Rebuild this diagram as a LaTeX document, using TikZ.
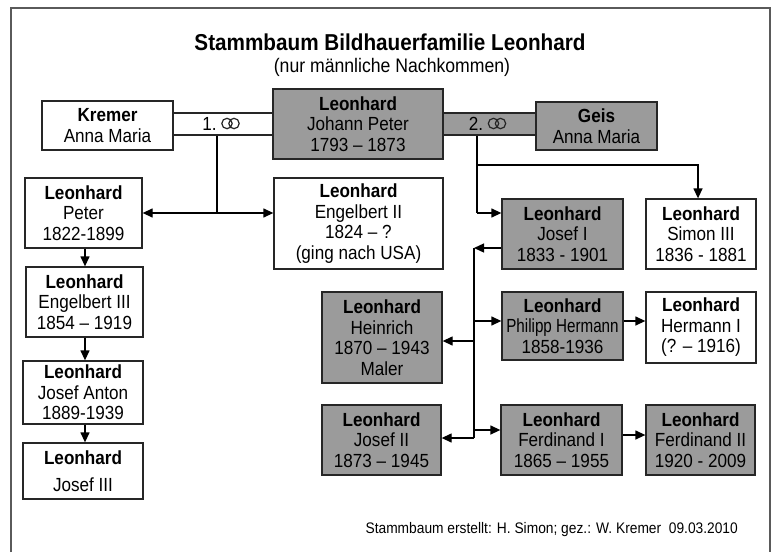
\documentclass[tikz,border=0pt]{standalone}
\usepackage{fontspec}
\setmainfont{Liberation Sans}[FakeStretch=0.9]
\newfontfamily\narrowfont{Liberation Sans}[FakeStretch=0.8]
\usetikzlibrary{arrows.meta}
\definecolor{boxgray}{RGB}{155,155,155}
\definecolor{framecol}{RGB}{90,90,90}
\tikzset{
  base/.style={draw=black!85, line width=1.3pt, inner sep=0pt, align=center,
    font=\fontsize{19pt}{20.5pt}\selectfont},
  wbox/.style={base, fill=white},
  gbox/.style={base, fill=boxgray},
  arr/.style={line width=1.3pt, -{Triangle[length=10pt,width=9pt]}},
  conn/.style={line width=1.3pt},
  ring/.style={draw=black!85, line width=1.2pt},
}
\begin{document}
\begin{tikzpicture}[x=1pt,y=-1pt]
\useasboundingbox (0,0) rectangle (774,552);
\fill[white] (0,0) rectangle (774,552);
\draw[framecol, line width=1.6pt] (11,552) -- (11,8) -- (770,8) -- (770,552);

% titles
\node[anchor=base, inner sep=0pt, font=\fontsize{23pt}{26pt}\selectfont\bfseries] (title) at (390,50) {Stammbaum Bildhauerfamilie Leonhard};
\node[anchor=base, inner sep=0pt, font=\fontsize{19.6pt}{22pt}\selectfont] (sub) at (392,72) {(nur männliche Nachkommen)};
\node[anchor=base east, inner sep=0pt, font=\fontsize{15.3pt}{18pt}\selectfont] (foot) at (738,533) {Stammbaum erstellt: H. Simon; gez.: W. Kremer\ \ 09.03.2010};

% marriage bars
\node[wbox, minimum width=100pt, minimum height=22pt] (bar1) at (223,124) {1.\hspace{27pt}};
\node[gbox, minimum width=93pt, minimum height=22pt] (bar2) at (489.5,124) {2.\hspace{27pt}};
\draw[ring] (227,123.5) circle (5.2pt) (234,123.5) circle (5.2pt);
\draw[ring] (493.5,123.5) circle (5.2pt) (500.5,123.5) circle (5.2pt);

% persons
\node[wbox, minimum width=131pt, minimum height=49pt] (kremer) at (107.5,125.5) {\textbf{Kremer}\\Anna Maria};
\node[gbox, minimum width=170pt, minimum height=70pt] (jp) at (358,124) {\textbf{Leonhard}\\Johann Peter\\1793 – 1873};
\node[gbox, minimum width=121pt, minimum height=48pt] (geis) at (596.5,126) {\textbf{Geis}\\Anna Maria};

\node[wbox, minimum width=117pt, minimum height=70pt] (peter) at (83.5,213) {\textbf{Leonhard}\\Peter\\1822-1899};
\node[wbox, minimum width=169pt, minimum height=91pt] (eng2) at (358.5,223.5) {\textbf{Leonhard}\\Engelbert II\\1824 – ?\\(ging nach USA)};
\node[wbox, minimum width=117pt, minimum height=70pt] (eng3) at (84.5,302) {\textbf{Leonhard}\\Engelbert III\\1854 – 1919};
\node[wbox, minimum width=120pt, minimum height=63pt] (janton) at (83,392.5) {\textbf{Leonhard}\\Josef Anton\\1889-1939};
\node[wbox, minimum width=120pt, minimum height=56pt, font=\fontsize{19pt}{27pt}\selectfont] (j3) at (83,471) {\textbf{Leonhard}\\Josef III};

\node[gbox, minimum width=121pt, minimum height=70pt] (josef1) at (562.5,234) {\textbf{Leonhard}\\Josef I\\1833 - 1901};
\node[wbox, minimum width=110pt, minimum height=70pt] (simon) at (701,234) {\textbf{Leonhard}\\Simon III\\1836 - 1881};
\node[gbox, minimum width=120pt, minimum height=91pt] (heinrich) at (382,337.5) {\textbf{Leonhard}\\Heinrich\\1870 – 1943\\Maler};
\node[gbox, minimum width=121pt, minimum height=68pt] (ph) at (562.5,326) {\textbf{Leonhard}\\{\narrowfont Philipp Hermann}\\1858-1936};
\node[wbox, minimum width=110pt, minimum height=71pt] (hermann) at (701,327.5) {\textbf{Leonhard}\\Hermann I\\(? – 1916)};
\node[gbox, minimum width=119pt, minimum height=70pt] (josef2) at (381.5,440) {\textbf{Leonhard}\\Josef II\\1873 – 1945};
\node[gbox, minimum width=121pt, minimum height=70pt] (ferd1) at (561.5,440) {\textbf{Leonhard}\\Ferdinand I\\1865 – 1955};
\node[gbox, minimum width=109pt, minimum height=70pt] (ferd2) at (700.5,440) {\textbf{Leonhard}\\Ferdinand II\\1920 - 2009};

% first marriage children
\coordinate (m1) at (217,213);
\draw[conn] (bar1.south -| m1) -- (m1);
\draw[arr] (m1) -- (peter.east |- m1);
\draw[arr] (m1) -- (eng2.west |- m1);

% second marriage children
\coordinate (m2) at (477,165);
\coordinate (m2b) at (477,213);
\coordinate (s1) at (698,165);
\draw[conn] (bar2.south -| m2) -- (m2b);
\draw[arr] (m2b) -- (josef1.west |- m2b);
\draw[arr] (m2) -- (s1) -- (simon.north -| s1);

% left column
\coordinate (lc) at (85,0);
\draw[arr] (peter.south -| lc) -- (eng3.north -| lc);
\draw[arr] (eng3.south -| lc) -- (janton.north -| lc);
\draw[arr] (janton.south -| lc) -- (j3.north -| lc);

% Josef I trunk
\coordinate (t0) at (474,248);
\coordinate (t1) at (474,438);
\coordinate (tph) at (474,321);
\coordinate (th) at (474,341);
\coordinate (tf) at (474,430);
\coordinate (f12) at (634,435);
\draw[arr] (josef1.west |- t0) -- (t0);
\draw[conn] (t0) -- (t1);
\draw[arr] (tph) -- (ph.west |- tph);
\draw[arr] (th) -- (heinrich.east |- th);
\draw[arr] (tf) -- (ferd1.west |- tf);
\draw[arr] (t1) -- (josef2.east |- t1);
\draw[arr] (ph.east |- tph) -- (hermann.west |- tph);
\draw[arr] (ferd1.east |- f12) -- (ferd2.west |- f12);
\end{tikzpicture}
\end{document}
